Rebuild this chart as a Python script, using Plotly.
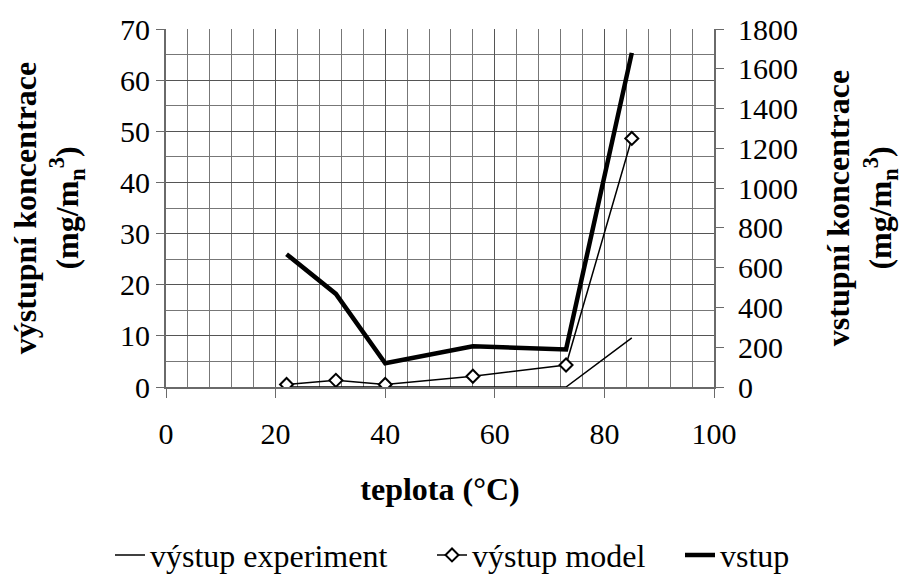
import plotly.graph_objects as go

# temperatures (°C)
teplota = [22, 31, 40, 56, 73, 85]

# concentrations (mg/m_n^3)
vystup_experiment = [0, 0, 0, 0, 0, 9.6]
vystup_model = [0.5, 1.3, 0.5, 2.1, 4.3, 48.6]
vstup = [668, 468, 119, 205, 189, 1680]

FONT = "Liberation Serif"
TICK = dict(family=FONT, size=30, color="black")
TITLE = dict(family=FONT, size=32, color="black")
LEG = dict(family=FONT, size=32, color="black")

fig = go.Figure()
fig.add_trace(go.Scatter(
    x=teplota, y=vystup_experiment, name="výstup experiment",
    mode="lines", line=dict(color="black", width=1.5), yaxis="y",
    legend="legend"))
fig.add_trace(go.Scatter(
    x=teplota, y=vystup_model, name="výstup model",
    mode="lines+markers", line=dict(color="black", width=1.5),
    marker=dict(symbol="diamond", size=10, color="white",
                line=dict(color="black", width=2)), yaxis="y",
    legend="legend2"))
fig.add_trace(go.Scatter(
    x=teplota, y=vstup, name="vstup",
    mode="lines", line=dict(color="black", width=4.5), yaxis="y2",
    legend="legend3"))


def legend_at(px):
    # one legend entry placed along the bottom row (x in pixels)
    return dict(orientation="h", x=px / 904, xanchor="left", xref="container",
                y=0.004, yanchor="bottom", yref="container",
                font=LEG, itemwidth=30, bgcolor="rgba(0,0,0,0)")


fig.update_layout(
    width=904, height=585,
    paper_bgcolor="white", plot_bgcolor="white",
    margin=dict(l=166, r=190, t=29, b=198, autoexpand=False),
    font=dict(family=FONT, size=30, color="black"),
    showlegend=True,
    legend=legend_at(110),
    legend2=legend_at(432),
    legend3=legend_at(680),
    xaxis=dict(
        range=[0, 100], dtick=20, tick0=0,
        showgrid=True, gridcolor="#555555", gridwidth=1,
        minor=dict(dtick=4, showgrid=True, gridcolor="#777777", gridwidth=1,
                   ticks=""),
        showline=True, linecolor="#6a6a6a", linewidth=2,
        ticks="outside", ticklen=9, tickcolor="#6a6a6a", tickwidth=1,
        ticklabelstandoff=10,
        zeroline=False, tickfont=TICK,
        title=dict(text="<b>teplota (°C)</b>", standoff=29, font=TITLE),
    ),
    yaxis=dict(
        range=[0, 70], dtick=10, tick0=0,
        showgrid=True, gridcolor="#555555", gridwidth=1,
        minor=dict(dtick=5, showgrid=True, gridcolor="#777777", gridwidth=1,
                   ticks=""),
        showline=True, linecolor="#6a6a6a", linewidth=2, mirror=False,
        ticks="outside", ticklen=8, tickcolor="#6a6a6a",
        zeroline=False, tickfont=TICK,
        title=dict(text="<b>výstupní koncentrace<br>(mg/m<sub>n</sub><sup>3</sup>)</b>",
                   standoff=32, font=TITLE),
    ),
    yaxis2=dict(
        range=[0, 1800], dtick=200, tick0=0,
        overlaying="y", side="right",
        showgrid=False, zeroline=False,
        showline=True, linecolor="#6a6a6a", linewidth=2,
        ticks="outside", ticklen=8, tickcolor="#6a6a6a",
        ticklabelstandoff=8,
        tickfont=TICK,
        title=dict(text="<b>vstupní koncentrace<br>(mg/m<sub>n</sub><sup>3</sup>)</b>",
                   standoff=30, font=TITLE),
    ),
)

fig.write_html("out.html")
